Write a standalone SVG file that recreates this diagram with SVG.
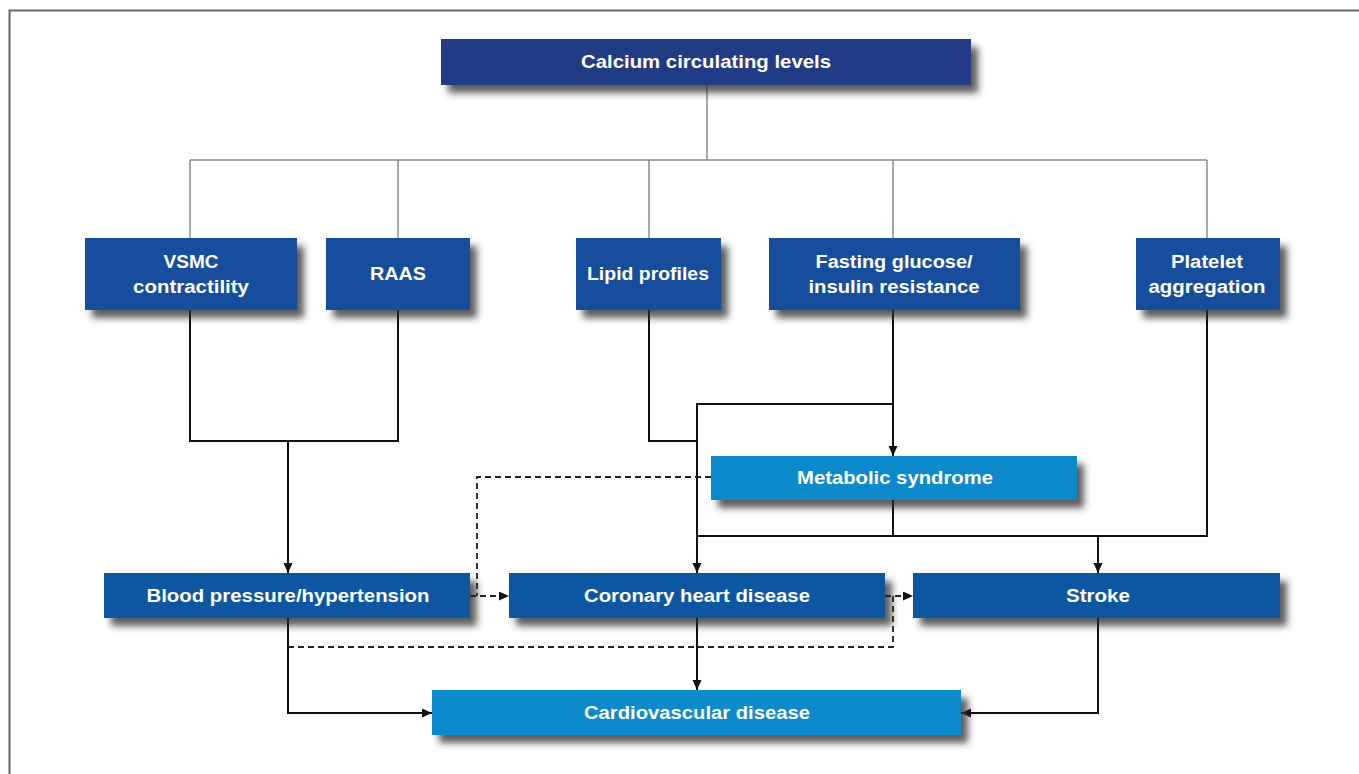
<svg xmlns="http://www.w3.org/2000/svg" width="1359" height="774" viewBox="0 0 1359 774">
<style>
.box{filter:url(#sh)}
.navy{fill:#233a85}
.blue{fill:#164d9c}
.mid{fill:#0b56a2}
.light{fill:#0a8acb}
text{font-family:"Liberation Sans",Arial,sans-serif;font-weight:bold;font-size:18px;fill:#fff;text-anchor:middle}
.gray{stroke:#8a8a8a;stroke-width:1.5;fill:none}
.blk{stroke:#111;stroke-width:2;fill:none}
.dash{stroke:#222;stroke-width:1.8;fill:none;stroke-dasharray:6 4}
.arr{marker-end:url(#ah)}
</style>
<defs>
<filter id="sh" x="-10%" y="-30%" width="125%" height="180%">
<feGaussianBlur in="SourceAlpha" stdDeviation="3.5"/>
<feOffset dx="7" dy="8" result="b"/>
<feFlood flood-color="#2a2a2a" flood-opacity="0.75"/>
<feComposite in2="b" operator="in"/>
<feMerge><feMergeNode/><feMergeNode in="SourceGraphic"/></feMerge>
</filter>
<marker id="ah" markerUnits="userSpaceOnUse" markerWidth="11" markerHeight="10" refX="10" refY="4.5" orient="auto">
<path d="M0,0 L10,4.5 L0,9 z" fill="#111"/>
</marker>
</defs>
<rect width="1359" height="774" fill="#fff"/>
<path d="M9.5 774 V10.5 H1359" stroke="#666" stroke-width="2" fill="none"/>

<g id="connectors">
<path class="gray" d="M707 85 V160 M190 160 H1207 M190 160 V238 M398 160 V238 M649 160 V238 M893 160 V238 M1207 160 V238"/>
<path class="blk" d="M190 310 V441 H398 V310"/>
<path class="blk arr" d="M288 441 V573"/>
<path class="blk" d="M649 310 V441 H697"/>
<path class="blk arr" d="M893 310 V456"/>
<path class="blk arr" d="M893 404 H697 V573"/>
<path class="blk" d="M893 500 V536 M697 536 H1207 V310"/>
<path class="blk arr" d="M1098 536 V573"/>
<path class="blk arr" d="M288 618 V713 H432"/>
<path class="blk arr" d="M697 618 V690"/>
<path class="blk arr" d="M1098 618 V713 H961"/>
<path class="dash" d="M711 477 H477 V596"/>
<path class="dash arr" d="M470 596 H509"/>
<path class="dash" d="M288 647 H893 V596"/>
<path class="dash arr" d="M885 596 H913"/>
</g>

<g id="calcium"><rect class="box navy" x="441" y="39" width="530" height="46"/><text x="706" y="68" textLength="250" lengthAdjust="spacingAndGlyphs">Calcium circulating levels</text></g>
<g id="vsmc"><rect class="box blue" x="85" y="238" width="212" height="72"/><text x="191" y="268" textLength="55" lengthAdjust="spacingAndGlyphs">VSMC</text><text x="191" y="293" textLength="116" lengthAdjust="spacingAndGlyphs">contractility</text></g>
<g id="raas"><rect class="box blue" x="326" y="238" width="144" height="72"/><text x="398" y="280" textLength="56" lengthAdjust="spacingAndGlyphs">RAAS</text></g>
<g id="lipid"><rect class="box blue" x="576" y="238" width="145" height="72"/><text x="648" y="280" textLength="122" lengthAdjust="spacingAndGlyphs">Lipid profiles</text></g>
<g id="fasting"><rect class="box blue" x="769" y="238" width="251" height="72"/><text x="894" y="268" textLength="157" lengthAdjust="spacingAndGlyphs">Fasting glucose/</text><text x="894" y="293" textLength="171" lengthAdjust="spacingAndGlyphs">insulin resistance</text></g>
<g id="platelet"><rect class="box blue" x="1136" y="238" width="144" height="72"/><text x="1207" y="268" textLength="72" lengthAdjust="spacingAndGlyphs">Platelet</text><text x="1207" y="293" textLength="117" lengthAdjust="spacingAndGlyphs">aggregation</text></g>
<g id="metabolic"><rect class="box light" x="711" y="456" width="366" height="44"/><text x="895" y="484" textLength="196" lengthAdjust="spacingAndGlyphs">Metabolic syndrome</text></g>
<g id="bp"><rect class="box mid" x="104" y="573" width="366" height="45"/><text x="288" y="602" textLength="283" lengthAdjust="spacingAndGlyphs">Blood pressure/hypertension</text></g>
<g id="chd"><rect class="box mid" x="509" y="573" width="376" height="45"/><text x="697" y="602" textLength="226" lengthAdjust="spacingAndGlyphs">Coronary heart disease</text></g>
<g id="stroke"><rect class="box mid" x="913" y="573" width="367" height="45"/><text x="1098" y="602" textLength="64" lengthAdjust="spacingAndGlyphs">Stroke</text></g>
<g id="cvd"><rect class="box light" x="432" y="690" width="529" height="45"/><text x="697" y="719" textLength="226" lengthAdjust="spacingAndGlyphs">Cardiovascular disease</text></g>
</svg>
